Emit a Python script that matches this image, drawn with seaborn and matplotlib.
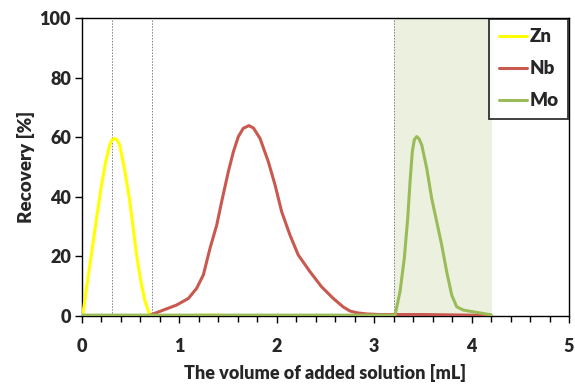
import numpy as np
import pandas as pd
import seaborn as sns
import matplotlib.pyplot as plt
from matplotlib.ticker import MultipleLocator

# values
zn_x = [0, 0.01, 0.034, 0.068, 0.113, 0.157, 0.198, 0.24, 0.284, 0.31, 0.335, 0.36, 0.387, 0.438,
        0.489, 0.524, 0.558, 0.602, 0.643, 0.684, 0.705,
        1.0, 1.3, 1.6, 2.0, 2.5, 3.0, 3.4, 3.8, 4.2]
zn_y = [0, 0.9, 6.5, 14.3, 24.4, 34.5, 43.4, 51.2, 57.4, 59.2, 59.6, 59.1, 57.4, 49,
        38.9, 30, 21, 12.1, 5.4, 1.4, 0,
        0, 0.3, 0, 0, 0, 0, 0.3, 0, 0]

nb_x = [0.715, 0.835, 0.972, 1.092, 1.177, 1.246, 1.314, 1.383, 1.434, 1.502, 1.554, 1.605, 1.656,
        1.714, 1.76, 1.828, 1.913, 1.982, 2.05, 2.135, 2.22, 2.34, 2.46, 2.58, 2.68, 2.75, 2.82,
        2.92, 3.06, 3.5, 4.2]
nb_y = [0.5, 2.0, 3.7, 5.9, 9.3, 13.8, 22.7, 30.5, 38.4, 48.4, 55.1, 60.2, 63,
        63.9, 63.1, 59.6, 51.8, 44, 35, 27.2, 20.5, 14.9, 9.8, 5.9, 3.1, 1.7, 1.1,
        0.7, 0.5, 0.5, 0.2]

mo_x = [0, 1, 2, 3, 3.214, 3.265, 3.309, 3.344, 3.368, 3.391, 3.412, 3.436, 3.46, 3.488, 3.539,
        3.59, 3.642, 3.693, 3.744, 3.796, 3.847, 3.915, 4.02, 4.2]
mo_y = [0.3, 0.3, 0.3, 0.3, 0.3, 8.2, 19.4, 32.8, 45.1, 55.1, 59.2, 60.2, 59.5, 57.4, 49.6,
        39.5, 31.6, 23.8, 14.9, 7, 3.1, 2.0, 1.4, 0.4]

vlines = [0.31, 0.715, 3.205]
shade = (3.205, 4.21)

colors = {"Zn": "#ffff00", "Nb": "#c9594f", "Mo": "#9bbb59"}

sns.set_style("white")
plt.rcParams['font.family'] = ['Lato', 'DejaVu Sans']
plt.rcParams['font.weight'] = 'heavy'

fig = plt.figure(figsize=(5.75, 3.84), dpi=100)
ax = fig.add_axes([0.1426, 0.177, 0.847, 0.776])

ax.axvspan(*shade, color="#ebf1de", zorder=0, lw=0)
for v in vlines:
    ax.axvline(v, color="#808080", ls=(0, (1.5, 1.5)), lw=0.7, zorder=1)

for name, xs, ys in [("Zn", zn_x, zn_y), ("Nb", nb_x, nb_y), ("Mo", mo_x, mo_y)]:
    d = pd.DataFrame({"x": xs, "y": ys})
    sns.lineplot(data=d, x="x", y="y", sort=False, color=colors[name], lw=2.2,
                 label=name, ax=ax, zorder=3)

ax.set_xlim(0, 5)
ax.set_ylim(0, 100)
ax.set_xticks(range(6))
ax.set_yticks(range(0, 101, 20))
ax.xaxis.set_minor_locator(MultipleLocator(0.2))
ax.tick_params(axis='both', which='major', direction='out', length=5, width=1, color='black',
               labelsize=13, pad=3)
ax.tick_params(axis='x', which='minor', direction='out', length=4, width=1, color='black', bottom=True)
ax.tick_params(axis='x', which='major', pad=11)
ax.tick_params(axis='both', bottom=True, left=True)
for s in ax.spines.values():
    s.set_color('black')
    s.set_linewidth(1)

ax.set_xlabel("The volume of added solution [mL]", fontsize=13, fontweight='heavy', labelpad=6)
ax.set_ylabel("Recovery [%]", fontsize=13.5, fontweight='heavy', labelpad=3)

leg = ax.legend(loc='upper right', frameon=True, fancybox=False, fontsize=13.5,
                handlelength=1.5, borderaxespad=0.05, labelspacing=0.8, handletextpad=0.15,
                borderpad=0.5)
leg.get_frame().set_edgecolor('black')
leg.get_frame().set_linewidth(1.3)
for t in leg.get_texts():
    t.set_fontweight('heavy')

fig.savefig("out.png", dpi=100)
